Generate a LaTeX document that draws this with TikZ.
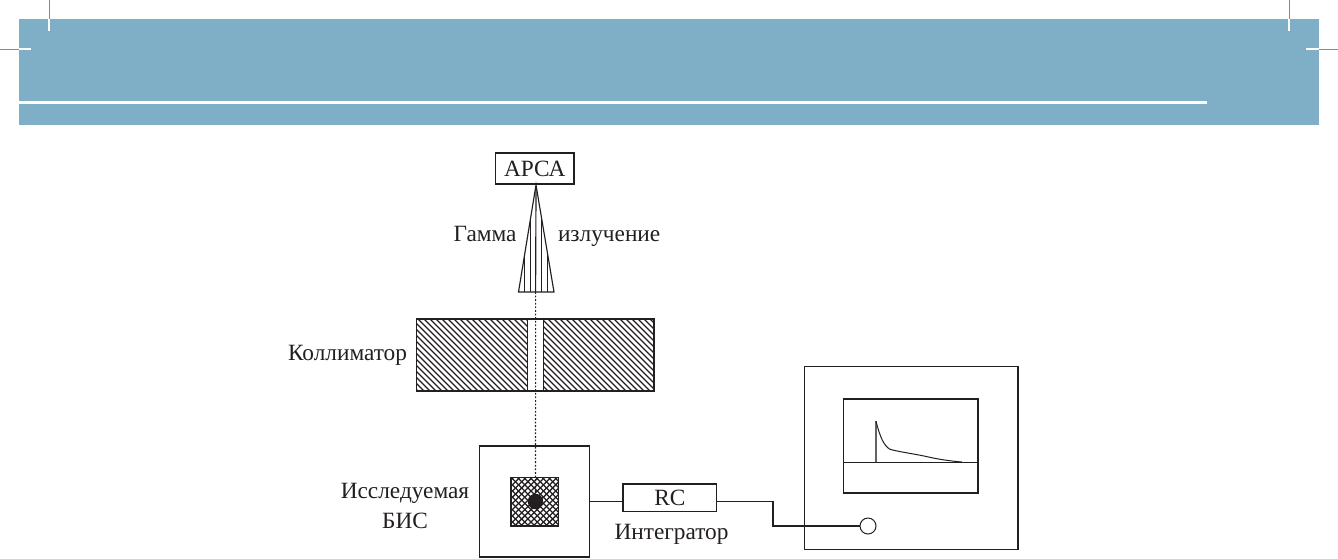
\documentclass[tikz,border=0pt]{standalone}
\usepackage{fontspec}
\setmainfont{Liberation Serif}
\definecolor{band}{HTML}{7FAFC7}
\definecolor{ink}{HTML}{231F20}
\definecolor{cropgray}{HTML}{8A8A8A}
\tikzset{
  box/.style={draw=ink,line width=1.3pt,fill=white,inner sep=0pt,outer sep=0pt,font=\fontsize{23.3}{27}\selectfont,text=ink},
  wire/.style={draw=ink,line width=1.1pt},
  lbl/.style={inner sep=0pt,outer sep=0pt,font=\fontsize{23.3}{30}\selectfont,text=ink},
  ray/.style={draw=ink,line width=1.15pt},
  dotline/.style={draw=ink,line width=1.1pt,dash pattern=on 1.8pt off 1.8pt},
  hatch/.style={draw=ink,line width=1.15pt},
}
\begin{document}
\begin{tikzpicture}[x=1pt,y=-1pt]
\useasboundingbox (0,0) rectangle (1338,558);
\fill[white] (0,0) rectangle (1338,558);
% header band
\fill[band] (19,19) rectangle (1319,125);
\fill[white] (19,101) rectangle (1207,103.5);
% crop marks
\draw[cropgray,line width=1pt] (49,0) -- (49,19) (1289,0) -- (1289,19) (0,49) -- (19,49) (1319,49) -- (1338,49);
\draw[white,line width=1.6pt] (49,19) -- (49,31) (1289,19) -- (1289,31) (19,49) -- (31,49) (1306,49) -- (1319,49);
% collimator hatching
\begin{scope}
\clip (416.7,319) rectangle (527.7,391);
\foreach \k in {0,6,...,200} {\draw[hatch] (340+\k,319) -- (412+\k,391);}
\end{scope}
\begin{scope}
\clip (543.3,319) rectangle (654,391);
\foreach \k in {0,6,...,200} {\draw[hatch] (470+\k,319) -- (542+\k,391);}
\end{scope}
\node[draw=ink,line width=1.5pt,minimum width=237.3pt,minimum height=72pt,inner sep=0pt,outer sep=0pt] (coll) at (535.35,355) {};
\node[draw=ink,line width=1.3pt,fill=white,minimum width=15.6pt,minimum height=72pt,inner sep=0pt,outer sep=0pt] (slit) at (535.5,355) {};
% detector
\node[box,minimum width=78.5pt,minimum height=31pt] (apca) at (534.75,168.5) {АРСА};
% cone
\coordinate (apex) at (536,185);
\coordinate (bl) at (518.5,292);
\coordinate (br) at (554,292);
\coordinate (bm) at (535.6,292);
\draw[ray,line join=miter] (apex) -- (bl) -- (br) -- cycle;
\draw[ray] (536,190) -- (bm);
\draw[ray] (530.4,219) -- (530.4,292) (541.7,219) -- (541.7,292);
\draw[ray] (524.8,253) -- (524.8,292) (547.6,253) -- (547.6,292);
% chip
\node[box,minimum width=110pt,minimum height=111pt] (ic) at (534.7,501.5) {};
\begin{scope}
\clip (511,477.3) rectangle (558.7,526);
\fill[white] (511,477.3) rectangle (558.7,526);
\foreach \k in {0,6.2,...,115} {
  \draw[ink,line width=1.25pt] (455+\k,477) -- (505+\k,527);
  \draw[ink,line width=1.25pt] (514+\k,477) -- (464+\k,527);
}
\end{scope}
\node[draw=ink,line width=1.5pt,minimum width=47.7pt,minimum height=48.7pt,inner sep=0pt,outer sep=0pt] (die) at (534.85,501.65) {};
\node[circle,fill=ink,minimum size=15.5pt,inner sep=0pt,outer sep=0pt] (spot) at (535.5,501.5) {};
\draw[dotline] (bm) -- (spot);
% integrator
\node[box,minimum width=93.7pt,minimum height=27.7pt] (rc) at (669.85,497.85) {RC};
% oscilloscope
\node[box,minimum width=213.3pt,minimum height=183.4pt] (osc) at (911.35,458) {};
\node[box,minimum width=134.7pt,minimum height=94pt] (screen) at (910.65,446) {};
\node[circle,draw=ink,line width=1pt,fill=white,minimum size=16pt,inner sep=0pt,outer sep=0pt] (jack) at (868,526) {};
\coordinate (wireA) at (589.7,501.3);
\coordinate (wireB) at (623,501.3);
\coordinate (wireC) at (716.7,501.3);
\coordinate (bendA) at (773,501.3);
\coordinate (bendB) at (773,526);
\draw[wire] (wireA) -- (wireB);
\draw[wire] (wireC) -- (bendA) -- (bendB) -- (jack.west);
% trace
\draw[ink,line width=1pt] (screen.west |- 0,462) -- (screen.east |- 0,462);
\draw[ink!70,line width=1.2pt] (876,462) -- (876,421.3);
\draw[ink,line width=1pt] (876,421.3) .. controls (880,437) and (884,446) .. (890,449.3)
  .. controls (900,452) and (912,453.5) .. (925,456.2)
  .. controls (938,459.3) and (950,461) .. (962,462);
% labels
\node[lbl,anchor=base east] (tg) at (516.5,241) {Гамма};
\node[lbl,anchor=base west] (ti) at (558,241) {излучение};
\node[lbl,anchor=base east] (tk) at (407,360) {Коллиматор};
\node[lbl,anchor=base] (tb1) at (405,498) {Исследуемая};
\node[lbl,anchor=base] (tb2) at (405,528) {БИС};
\node[lbl,anchor=base] (tint) at (671.5,539) {Интегратор};
\end{tikzpicture}
\end{document}
